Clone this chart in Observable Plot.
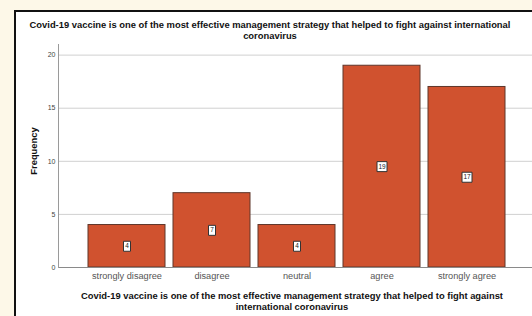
<!DOCTYPE html>
<html>
<head>
<meta charset="utf-8">
<script src="https://cdn.jsdelivr.net/npm/d3@7"></script>
<script src="https://cdn.jsdelivr.net/npm/@observablehq/plot@0.6"></script>
<style>
  html, body { margin: 0; padding: 0; background: #fdf8e8; width: 532px; height: 316px; overflow: hidden; font-family: "Liberation Sans", Arial, sans-serif; }
  #box { position: absolute; left: 14px; top: 10px; width: 530px; height: 320px; background: #fff; border-left: 2px solid #111; border-top: 2px solid #111; }
  .title { position: absolute; width: 532px; text-align: center; font-weight: bold; font-size: 9.4px; line-height: 11px; color: #111; white-space: nowrap; }
  #ylab { position: absolute; left: 33px; top: 151px; transform: translate(-50%, -50%) rotate(-90deg); font-weight: bold; font-size: 9.4px; color: #111; white-space: nowrap; }
  #chart { position: absolute; left: 0; top: 40px; }
</style>
</head>
<body>
<div id="box"></div>
<div class="title" style="top:19px; left:4px;">Covid-19 vaccine is one of the most effective management strategy that helped to fight against international<br>coronavirus</div>
<div id="chart"></div>
<div id="ylab">Frequency</div>
<div class="title" style="top:290px; left:26px;">Covid-19 vaccine is one of the most effective management strategy that helped to fight against<br>international coronavirus</div>
<script>
const categories = ["strongly disagree", "disagree", "neutral", "agree", "strongly agree"];
const frequencies = [4, 7, 4, 19, 17];
const yTicks = [0, 5, 10, 15, 20];

const data = categories.map((c, i) => ({category: c, value: frequencies[i]}));

function boxSymbol(w, h) {
  return { draw(ctx) { ctx.moveTo(-w/2, -h/2); ctx.lineTo(w/2, -h/2); ctx.lineTo(w/2, h/2); ctx.lineTo(-w/2, h/2); ctx.closePath(); } };
}

const plot = Plot.plot({
  width: 532,
  height: 240,
  marginLeft: 58,
  marginRight: 0,
  marginTop: 4,
  marginBottom: 13,
  style: { background: "transparent", fontFamily: "Liberation Sans, Arial, sans-serif", overflow: "visible" },
  x: { domain: categories, range: [81.7, 510.3], paddingInner: 0.1, paddingOuter: 0.05, label: null },
  y: { domain: [0, 21], label: null },
  marks: [
    Plot.gridY(yTicks.filter(d => d > 0), { stroke: "#d0d0d0", strokeOpacity: 1 }),
    Plot.barY(data, { x: "category", y: "value", fill: "#d0522f", stroke: "#5e362a", strokeWidth: 1 }),
    Plot.dot(data.filter(d => d.value < 10), { x: "category", y: d => d.value / 2, symbol: boxSymbol(7, 10), fill: "#fff", stroke: "#333", strokeWidth: 1, r: 3 }),
    Plot.dot(data.filter(d => d.value >= 10), { x: "category", y: d => d.value / 2, symbol: boxSymbol(10, 10), fill: "#fff", stroke: "#333", strokeWidth: 1, r: 3 }),
    Plot.text(data, { x: "category", y: d => d.value / 2, text: d => String(d.value), fontSize: 6.5, fill: "#222" }),
    Plot.ruleY([0], { stroke: "#8a8a8a" }),
    Plot.frame({ anchor: "left", stroke: "#9a9a9a" }),
    Plot.axisY(yTicks, { tickSize: 0, tickPadding: 3, fontSize: 7, color: "#444", label: null }),
    Plot.axisX({ tickSize: 0, tickPadding: 5, fontSize: 9.2, color: "#555", label: null })
  ]
});
document.getElementById("chart").appendChild(plot);
</script>
</body>
</html>
